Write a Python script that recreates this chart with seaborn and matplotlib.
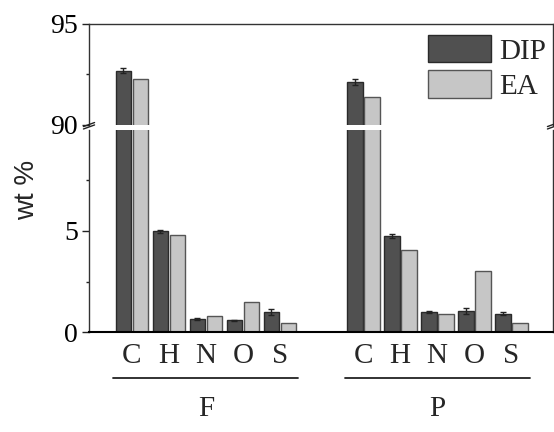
import numpy as np
import pandas as pd
import matplotlib
matplotlib.use("Agg")
import matplotlib.pyplot as plt
import matplotlib.transforms as mtransforms
from matplotlib.patches import Patch
import seaborn as sns

# -----------------------------
# DATA
# -----------------------------
elements = ["C", "H", "N", "O", "S"]
groups = ["F", "P"]
group_start = [0.0, 6.25]
samples = ["DIP", "EA"]

dip_f = [92.68, 4.98, 0.64, 0.58, 0.99]
dip_f_err = [0.12, 0.07, 0.03, 0.03, 0.13]
ea_f = [92.28, 4.80, 0.80, 1.47, 0.46]

dip_p = [92.13, 4.75, 0.99, 1.04, 0.91]
dip_p_err = [0.16, 0.09, 0.05, 0.13, 0.06]
ea_p = [91.40, 4.04, 0.89, 3.02, 0.46]

fill = {"DIP": "#505050", "EA": "#c6c6c6"}
edge = {"DIP": "#2a2a2a", "EA": "#555555"}

rows = []
for g, start, dip, dip_err, ea in zip(groups, group_start,
                                      [dip_f, dip_p], [dip_f_err, dip_p_err], [ea_f, ea_p]):
    for i, el in enumerate(elements):
        rows.append(dict(pos=start + i, group=g, element=el, sample="DIP", value=dip[i], err=dip_err[i]))
        rows.append(dict(pos=start + i, group=g, element=el, sample="EA", value=ea[i], err=0.0))
df = pd.DataFrame(rows)

# -----------------------------
# FIGURE
# -----------------------------
sns.set_style("ticks")
plt.rcParams["font.family"] = ["Liberation Serif", "DejaVu Serif"]

W, H = 554, 432
fig = plt.figure(figsize=(W / 100, H / 100), dpi=100)

left, right = 89, 553
top_y, gap_top, gap_bot, bot_y = 24, 125, 130, 332
ax_top = fig.add_axes([left / W, 1 - gap_top / H, (right - left) / W, (gap_top - top_y) / H])
ax_bot = fig.add_axes([left / W, 1 - bot_y / H, (right - left) / W, (bot_y - gap_bot) / H])

for ax in (ax_top, ax_bot):
    sns.barplot(data=df, x="pos", y="value", hue="sample", hue_order=samples,
                native_scale=True, width=0.92, gap=0.08, palette=fill,
                linewidth=1.0, errorbar=None, legend=False, ax=ax)
    for cont, s in zip(ax.containers, samples):
        for bar in cont.patches:
            bar.set_edgecolor(edge[s])
    # error bars on DIP bars
    d = df[df["sample"] == "DIP"].sort_values("pos")
    centers = [b.get_x() + b.get_width() / 2 for b in ax.containers[0].patches]
    ax.errorbar(centers, d["value"], yerr=d["err"], fmt="none", ecolor="#222222",
                elinewidth=1.0, capsize=2.5, capthick=1.0)
    ax.set_xlim(-1.16, 11.38)
    ax.set_xlabel("")
    ax.set_ylabel("")
    for sp in ax.spines.values():
        sp.set_color("#333333")
        sp.set_linewidth(1.0)
    ax.tick_params(axis="y", which="major", direction="out", length=5, width=1.0,
                   labelsize=20, pad=3, colors="#222222", labelcolor="black")
    ax.tick_params(axis="y", which="minor", direction="out", length=2, width=1.0, colors="#222222")

ax_top.set_ylim(90, 95)
ax_top.set_yticks([90, 95])
ax_top.set_yticks([92.5], minor=True)
ax_top.spines["bottom"].set_visible(False)
ax_top.tick_params(axis="x", bottom=False, labelbottom=False)

ax_bot.set_ylim(0, 10)
ax_bot.set_yticks([0, 5])
ax_bot.set_yticks([2.5, 7.5], minor=True)
ax_bot.spines["top"].set_visible(False)
ax_bot.spines["bottom"].set_color("black")
ax_bot.spines["bottom"].set_linewidth(1.5)

positions = [s + i for s in group_start for i in range(len(elements))]
ax_bot.set_xticks(positions, labels=elements * len(groups))
ax_bot.tick_params(axis="x", length=0, labelsize=21, pad=8)

# group underline and labels
trans = mtransforms.blended_transform_factory(ax_bot.transData, ax_bot.transAxes)
for g, start in zip(groups, group_start):
    x0, x1 = start - 0.5, start + len(elements) - 0.5
    ax_bot.plot([x0, x1], [-0.226, -0.226], color="#222222", lw=1.3,
                transform=trans, clip_on=False)
    ax_bot.text((x0 + x1) / 2, -0.416, g, transform=trans, ha="center",
                va="baseline", fontsize=21)

# axis break marks
d = 0.012
for xa in (0.0, 1.0):
    for off in (0.0, 0.012):
        ax_bot.plot([xa - d, xa + d], [1.005 + off, 1.025 + off], color="#222222",
                    lw=1.0, transform=ax_bot.transAxes, clip_on=False)

fig.text(27 / W, 1 - 190 / H, "wt %", rotation=90, ha="center", va="center",
         family="Liberation Sans", fontsize=20)

handles = [Patch(facecolor=fill[s], edgecolor=edge[s], linewidth=1.0) for s in samples]
ax_top.legend(handles, samples, loc="upper left", bbox_to_anchor=(428 / W, 1 - 35 / H),
              bbox_transform=fig.transFigure, frameon=False, fontsize=21,
              borderpad=0, borderaxespad=0, handlelength=2.15, handleheight=1.07,
              handletextpad=0.3, labelspacing=0.2)

fig.savefig("out.png", dpi=100)
